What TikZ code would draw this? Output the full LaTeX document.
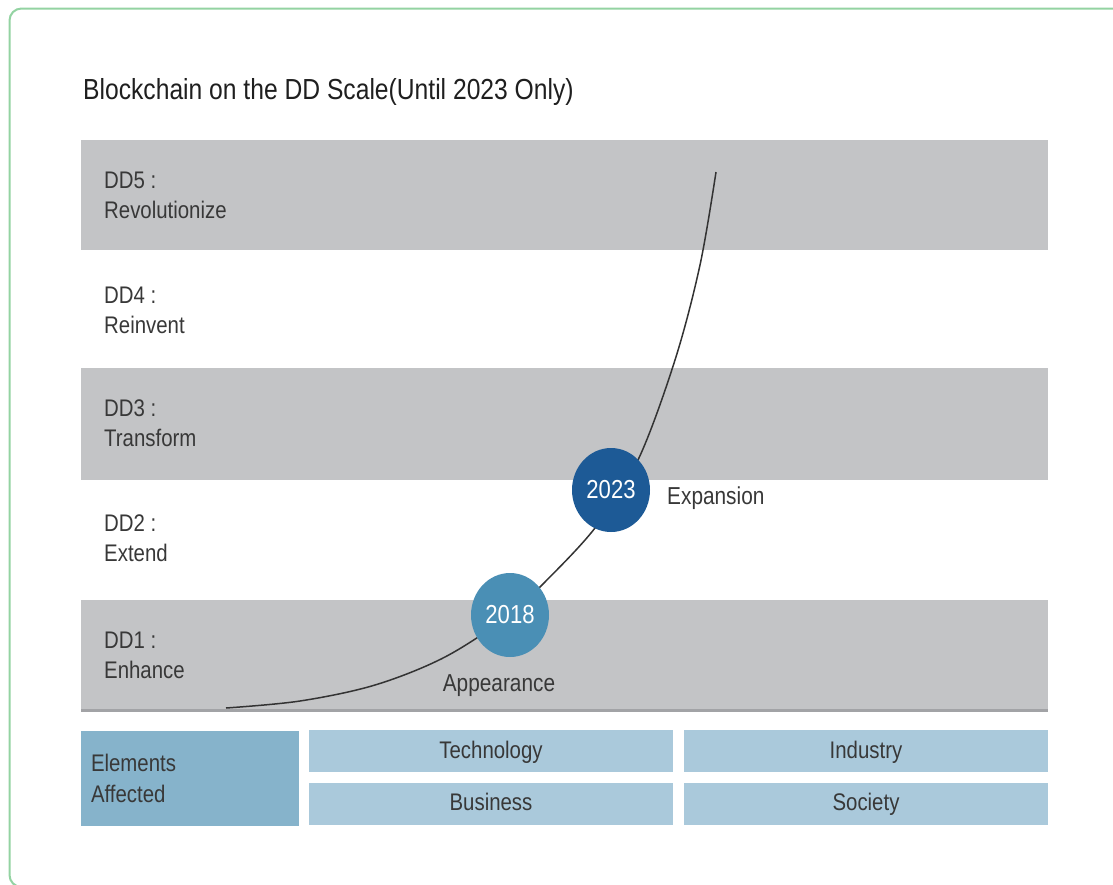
\documentclass[tikz,border=0pt]{standalone}
\usepackage{fontspec}
\setmainfont{Liberation Sans}[FakeStretch=0.85]
\usepackage{tikz}
\usetikzlibrary{positioning,shapes}
\usepackage{xcolor}
\definecolor{bandgray}{HTML}{C3C4C6}
\definecolor{bandline}{HTML}{A2A3A6}
\definecolor{framegreen}{HTML}{93D3A2}
\definecolor{lightcirc}{HTML}{4A8FB5}
\definecolor{darkcirc}{HTML}{1D5A96}
\definecolor{headbox}{HTML}{86B3CB}
\definecolor{elembox}{HTML}{AAC9DB}
\definecolor{txtgray}{HTML}{383838}

\begin{document}
\begin{tikzpicture}[
                x=1pt,y=-1pt,
                lvl/.style={align=left,anchor=west,inner sep=0pt,text=txtgray,
                    font=\fontsize{24}{30}\selectfont},
                yr/.style={ellipse,minimum width=78pt,minimum height=84pt,inner sep=0pt,
                    text=white,font=\fontsize{26}{26}\selectfont},
                phase/.style={inner sep=0pt,text=txtgray,font=\fontsize{24.5}{24.5}\selectfont},
                elem/.style={fill=elembox,minimum width=364pt,minimum height=42pt,inner sep=0pt,
                    text height=17pt,text depth=3pt,text=txtgray,font=\fontsize{24}{24}\selectfont},
                growth/.style={line width=1.5pt,draw=black!80}
            ]
                \useasboundingbox (0,0) rectangle (1113,884);
                \clip (0,0) rectangle (1113,884);
                \draw[framegreen,line width=2pt,rounded corners=12pt] (9.5,8.5) rectangle (1125,887);

                \node[anchor=base west,inner sep=0pt,text=black!88,font=\fontsize{29}{29}\selectfont]
                    (title) at (83,99) {Blockchain on the DD Scale(Until 2023 Only)};

                \fill[bandgray] (81,140) rectangle (1048,250);
                \fill[bandgray] (81,368) rectangle (1048,480);
                \fill[bandgray] (81,600) rectangle (1048,709);
                \fill[bandline] (81,709) rectangle (1048,712);

                \node[lvl] (dd5) at (104,195) {DD5 :\\Revolutionize};
                \node[lvl] (dd4) at (104,310) {DD4 :\\Reinvent};
                \node[lvl] (dd3) at (104,423) {DD3 :\\Transform};
                \node[lvl] (dd2) at (104,538) {DD2 :\\Extend};
                \node[lvl] (dd1) at (104,655) {DD1 :\\Enhance};

                \coordinate (c0) at (226,708);
                \coordinate (c1) at (716,172);
                \coordinate (p18) at (510,615);
                \coordinate (p23) at (611,490);

                \draw[growth] plot[smooth,tension=0.55] coordinates {(c0) (300,701) (375,685) (445,657)
                    (p18) (540,587) (595,528) (638,460) (675,360) (700,265) (c1)};

                \node[yr,fill=lightcirc] (y2018) at (p18) {2018};
                \node[yr,fill=darkcirc] (y2023) at (p23) {2023};
                \node[phase,anchor=base] (appear) at (499,691) {Appearance};
                \node[phase,anchor=base west] (expand) at (667,504) {Expansion};

                \node[fill=headbox,minimum width=218pt,minimum height=95pt,inner sep=0pt,
                    text width=198pt,align=left,text=txtgray,font=\fontsize{24}{31}\selectfont]
                    (affected) at (190,778) {Elements\\Affected};
                \node[elem] (tech) at (491,751) {Technology};
                \node[elem] (biz) at (491,803.5) {Business};
                \node[elem] (ind) at (866,751) {Industry};
                \node[elem] (soc) at (866,803.5) {Society};
            \end{tikzpicture}
\end{document}
